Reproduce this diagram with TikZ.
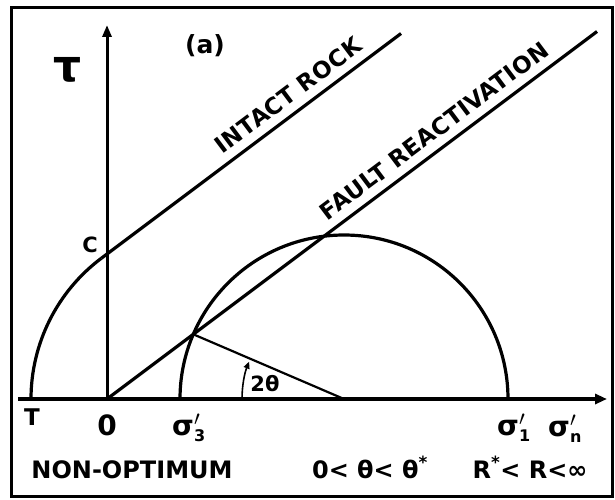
\documentclass[tikz,border=0pt]{standalone}
\usepackage{fontspec}
\setmainfont{DejaVu Sans}
\usepackage{amsmath}
\usetikzlibrary{arrows.meta,calc}
\newcommand{\fsz}[1]{\fontsize{#1}{#1}\selectfont\bfseries}
\newcommand{\sigp}[1]{σ$'_{\text{\fsz{16}#1}}$}

\begin{document}
\begin{tikzpicture}[x=1pt,y=1pt,
  heavy/.style={line width=3.2pt},
  txt/.style={inner sep=0pt,font=\fsz{23}\addfontfeature{LetterSpace=2}},
  lbl/.style={inner sep=0pt,anchor=base}]
\useasboundingbox (0,0) rectangle (615,499);
% frame
\draw[line width=3pt] (11,3) rectangle (612,491);

% points on the axes
\coordinate (O) at (107,100);
\coordinate (T) at (31,100);
\coordinate (ctr) at (344,100);
\coordinate (S1) at (508,100);
\coordinate (xbeg) at (18,100);
\coordinate (xend) at (607,100);
\coordinate (yend) at (107,474);
\coordinate (tan) at ($(207,100)+(126.87:176)$);
\coordinate (itop) at (401,465.5);
\coordinate (ftop) at (597,467.5);
\coordinate (P) at ($(ctr)+(156.76:164)$);

% axes
\draw[heavy,-{Triangle[length=12pt,width=10pt]}] (xbeg) -- (xend);
\draw[line width=3pt,-{Triangle[length=12pt,width=9pt]}] (O) -- (yend);

% failure envelopes
\draw[heavy] (tan) -- (itop) node[txt,pos=0.66,sloped,above=8pt] (intact) {INTACT ROCK};
\draw[heavy] (O) -- (ftop) node[txt,pos=0.69,sloped,above=8pt] (fault) {FAULT REACTIVATION};

% Mohr circles
\draw[heavy] (S1) arc[start angle=0,end angle=180,radius=164];
\draw[heavy] (T) arc[start angle=180,end angle=126.87,radius=176];

% angle 2 theta
\draw[line width=2.2pt] (P) -- (ctr);
\draw[line width=1.6pt,-{Triangle[length=7pt,width=6pt]}] ($(ctr)+(180:102)$) arc[start angle=180,end angle=158.5,radius=102];
\node[inner sep=0pt,font=\fsz{21}] (twoth) at (265,115) {2θ};

% labels
\node[inner sep=0pt,font=\fsz{44}] (tau) at (68,429) {τ};
\node[inner sep=0pt,font=\fsz{25}] (a) at (205,453) {(a)};
\node[lbl,font=\fsz{21}] (lC) at (90,247) {C};
\node[lbl,font=\fsz{23}] (lT) at (32,74) {T};
\node[lbl,font=\fsz{28}] (lO) at (107,64) {0};
\node[lbl,anchor=base west,font=\fsz{28}] (l3) at (172,64) {\sigp{3}};
\node[lbl,anchor=base west,font=\fsz{28}] (l1) at (497,64) {\sigp{1}};
\node[lbl,anchor=base west,font=\fsz{28}] (ln) at (548,63) {\sigp{n}};

% bottom row
\node[lbl,font=\fsz{24}] (nonopt) at (132,21) {NON-OPTIMUM};
\node[lbl,font=\fsz{24}] (theta) at (370,21) {0<~θ<~θ\textsuperscript{*}};
\node[lbl,font=\fsz{24}] (ratio) at (530,21) {R\textsuperscript{*}<~R<∞};
\end{tikzpicture}
\end{document}
